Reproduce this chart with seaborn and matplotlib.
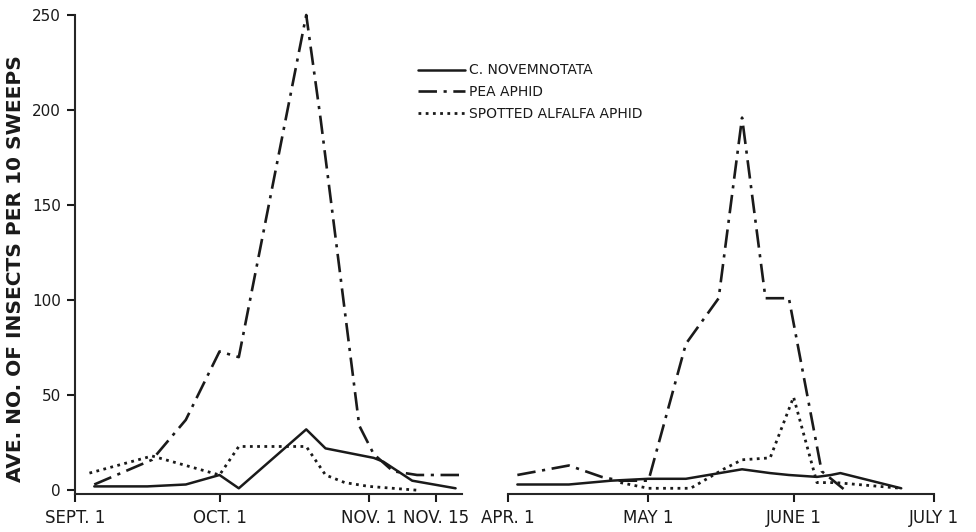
import matplotlib
matplotlib.use('Agg')
import matplotlib.pyplot as plt
import seaborn as sns
import pandas as pd

# fall 1958 and spring 1959 sweep counts
novem_fall_dates = ['1958-09-05', '1958-09-16', '1958-09-24', '1958-10-01', '1958-10-05', '1958-10-19',
                    '1958-10-23', '1958-11-02', '1958-11-04', '1958-11-10', '1958-11-19']
novem_fall = [2, 2, 3, 8, 1, 32, 22, 17, 15, 5, 1]

pea_fall_dates = ['1958-09-05', '1958-09-17', '1958-09-24', '1958-10-01', '1958-10-05', '1958-10-19',
                  '1958-10-22', '1958-10-30', '1958-11-02', '1958-11-06', '1958-11-11', '1958-11-20']
pea_fall = [3, 16, 37, 73, 70, 250, 195, 34, 19, 10, 8, 8]

spotted_fall_dates = ['1958-09-04', '1958-09-17', '1958-10-01', '1958-10-05', '1958-10-19', '1958-10-23',
                      '1958-10-27', '1958-11-01', '1958-11-11']
spotted_fall = [9, 18, 8, 23, 23, 8, 4, 2, 0]

novem_spring_dates = ['1959-04-03', '1959-04-14', '1959-04-23', '1959-05-01', '1959-05-09', '1959-05-21',
                      '1959-05-27', '1959-05-31', '1959-06-06', '1959-06-09', '1959-06-11', '1959-06-24']
novem_spring = [3, 3, 5, 6, 6, 11, 9, 8, 7, 8, 9, 1]

pea_spring_dates = ['1959-04-03', '1959-04-14', '1959-04-21', '1959-04-25', '1959-05-01', '1959-05-09',
                    '1959-05-16', '1959-05-21', '1959-05-26', '1959-05-31', '1959-06-07', '1959-06-12']
pea_spring = [8, 13, 7, 5, 5, 77, 101, 196, 101, 101, 10, 0]

spotted_spring_dates = ['1959-04-25', '1959-05-01', '1959-05-10', '1959-05-17', '1959-05-21', '1959-05-27',
                        '1959-06-01', '1959-06-06', '1959-06-10', '1959-06-24']
spotted_spring = [4, 1, 1, 11, 16, 17, 49, 4, 4, 1]

labels = ['C. NOVEMNOTATA', 'PEA APHID', 'SPOTTED ALFALFA APHID']
fall_ticks = ['1958-09-01', '1958-10-01', '1958-11-01', '1958-11-15']
fall_ticklabels = ['SEPT. 1', 'OCT. 1', 'NOV. 1', 'NOV. 15']
spring_ticks = ['1959-04-01', '1959-05-01', '1959-06-01', '1959-07-01']
spring_ticklabels = ['APR. 1', 'MAY 1', 'JUNE 1', 'JULY 1']

sns.set_style('ticks')
plt.rcParams['font.family'] = ['DejaVu Sans']
ink = '#1a1a1a'

styles = [dict(linestyle='-', lw=1.8),
          dict(linestyle=(0, (7, 2.5, 1.2, 2.5)), lw=1.9),
          dict(linestyle=(0, (1, 1.6)), lw=2.0)]

fig = plt.figure(figsize=(9.76, 5.32), dpi=100)
bottom = 1 - 494 / 532
height = (494 - 15) / 532
ax1 = fig.add_axes([75 / 976, bottom, (462 - 75) / 976, height])
ax2 = fig.add_axes([508 / 976, bottom, (934 - 508) / 976, height])

fall = [(novem_fall_dates, novem_fall), (pea_fall_dates, pea_fall), (spotted_fall_dates, spotted_fall)]
spring = [(novem_spring_dates, novem_spring), (pea_spring_dates, pea_spring), (spotted_spring_dates, spotted_spring)]

for (d, v), st, lab in zip(fall, styles, labels):
    sns.lineplot(x=pd.to_datetime(d), y=v, ax=ax1, color=ink, label=lab, clip_on=False, **st)
for (d, v), st in zip(spring, styles):
    sns.lineplot(x=pd.to_datetime(d), y=v, ax=ax2, color=ink, clip_on=False, **st)

for ax in (ax1, ax2):
    ax.set_ylim(-2, 250)
    sns.despine(ax=ax)
    ax.spines['bottom'].set_linewidth(1.5)
    ax.spines['left'].set_linewidth(1.5)
    ax.tick_params(axis='both', length=6, width=1.5, color=ink, labelcolor=ink)
    ax.tick_params(axis='x', labelsize=12, pad=5)
    ax.tick_params(axis='y', labelsize=11, pad=4)
    ax.set_xlabel('')

ax1.set_xlim(pd.Timestamp('1958-09-01'), pd.Timestamp('1958-11-20 08:00'))
ax1.set_xticks(pd.to_datetime(fall_ticks))
ax1.set_xticklabels(fall_ticklabels)
ax1.set_yticks([0, 50, 100, 150, 200, 250])
ax1.set_ylabel('AVE. NO. OF INSECTS PER 10 SWEEPS', fontsize=14.5, fontweight='bold', color=ink)
ax1.yaxis.set_label_coords(-0.128, 0.47)

ax2.set_xlim(pd.Timestamp('1959-04-01'), pd.Timestamp('1959-07-01'))
ax2.set_xticks(pd.to_datetime(spring_ticks))
ax2.set_xticklabels(spring_ticklabels)
ax2.spines['left'].set_visible(False)
ax2.set_yticks([])

handles, labs = ax1.get_legend_handles_labels()
ax1.get_legend().remove()
fig.legend(handles, labs, loc='upper left', bbox_to_anchor=(405 / 976, 1 - 51 / 532),
           frameon=False, fontsize=10, handlelength=3.4, handletextpad=0.3, labelspacing=0.55,
           labelcolor=ink)

fig.savefig('out.png', dpi=100)
